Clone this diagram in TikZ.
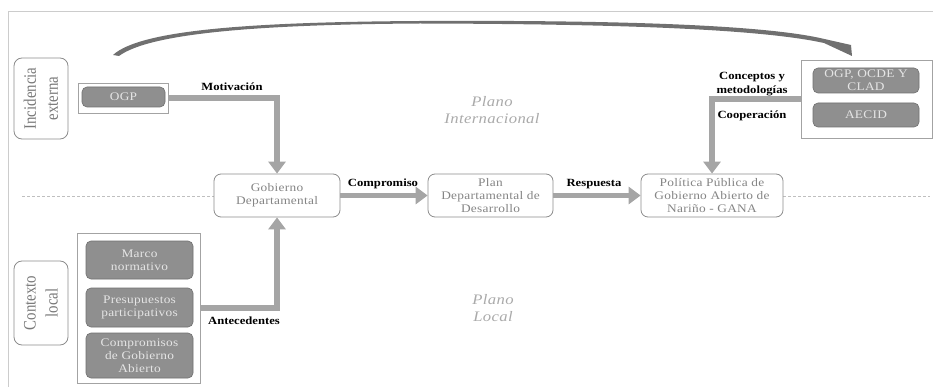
\documentclass[tikz,border=0pt]{standalone}
\usepackage{fontspec}
\setmainfont{Liberation Serif}[FakeStretch=1.15]
\newfontfamily\grisfont{Liberation Serif}[FakeStretch=1.15,LetterSpace=2.5]
\newfontfamily\ladofont{Liberation Serif}[FakeStretch=0.85]
\usetikzlibrary{arrows.meta}
\definecolor{borde}{HTML}{8C8C8C}
\definecolor{textogris}{HTML}{858585}
\definecolor{oscuro}{HTML}{8F8F8F}
\definecolor{flechagris}{HTML}{A5A5A5}
\definecolor{arcogris}{HTML}{707070}
\tikzset{
  caja/.style={draw=borde,line width=0.8pt,rounded corners=7pt,fill=white,inner sep=0pt,
    align=center,text=textogris,font=\grisfont\fontsize{11.6}{13}\selectfont},
  cajaosc/.style={draw=arcogris,line width=0.6pt,rounded corners=5pt,fill=oscuro,inner sep=0pt,
    align=center,text=white!90!black,font=\grisfont\fontsize{11.6}{13}\selectfont},
  grupo/.style={draw=borde!80,line width=0.8pt,fill=white,inner sep=0pt},
  lado/.style={draw=borde,line width=0.8pt,rounded corners=8pt,inner sep=0pt,rotate=90,
    align=center,text=textogris!90!black,font=\ladofont\fontsize{17.5}{22}\selectfont},
  flecha/.style={draw=flechagris,line width=5.5pt,-{Triangle[width=17pt,length=12pt]}},
  etiqueta/.style={align=center,font=\bfseries\fontsize{11}{14}\selectfont},
  plano/.style={align=center,text=textogris!70,font=\grisfont\itshape\fontsize{14.5}{17}\selectfont}
}
\begin{document}
\begin{tikzpicture}[x=1pt,y=-1pt]
  \useasboundingbox (0,0) rectangle (933,387);
  % marco
  \draw[black!20,line width=0.8pt] (933,11) -- (8,11) -- (8,387);

  % cajas de lado
  \node[lado,minimum width=81pt,minimum height=54pt] (inc) at (41,98.5) {Incidencia\\externa};
  \node[lado,minimum width=84pt,minimum height=54pt] (ctx) at (41,303) {Contexto\\local};

  % incidencia externa
  \node[grupo,minimum width=90pt,minimum height=30pt] (ogpg) at (123,98) {};
  \node[cajaosc,minimum width=83pt,minimum height=20pt] (ogp) at (123.5,97) {OGP};
  \node[grupo,minimum width=131pt,minimum height=78pt] (extg) at (866.5,99) {};
  \node[cajaosc,minimum width=106pt,minimum height=25pt] (ocde) at (866,80.5) {OGP, OCDE Y\\CLAD};
  \node[cajaosc,minimum width=106pt,minimum height=24pt] (aecid) at (866,115) {AECID};

  % contexto local
  \node[grupo,minimum width=123pt,minimum height=150pt] (locg) at (138.5,308) {};
  \node[cajaosc,minimum width=107pt,minimum height=38pt] (marco) at (139.5,260) {Marco\\normativo};
  \node[cajaosc,minimum width=107pt,minimum height=39pt] (presu) at (139.5,307.5) {Presupuestos\\participativos};
  \node[cajaosc,minimum width=107pt,minimum height=45pt] (compr) at (139.5,355.5) {Compromisos\\de Gobierno\\Abierto};

  % linea central
  \draw[black!25,dashed,dash pattern=on 3pt off 2pt,line width=0.5pt] (22,196) -- (214,196);
  \draw[black!25,dashed,dash pattern=on 3pt off 2pt,line width=0.5pt] (783,196) -- (930,196);

  % cadena principal
  \node[caja,minimum width=126pt,minimum height=43pt] (gob) at (277,195.5) {Gobierno\\Departamental};
  \node[caja,minimum width=125pt,minimum height=43pt] (plan) at (490.5,195.5) {Plan\\Departamental de\\Desarrollo};
  \node[caja,minimum width=142pt,minimum height=43pt] (pol) at (712,195.5) {Política Pública de\\Gobierno Abierto de\\Nariño - GANA};

  % flechas
  \draw[flecha] (ogpg.east) -| (gob.north);
  \draw[flecha] (locg.east) -| (gob.south);
  \draw[flecha] (gob.east) -- (plan.west);
  \draw[flecha] (plan.east) -- (pol.west);
  \draw[flecha] (extg.west) -| (pol.north);

  \node[etiqueta] (motiv) at (232,87) {Motivación};
  \node[etiqueta] (compm) at (383,184) {Compromiso};
  \node[etiqueta] (resp) at (594,184) {Respuesta};
  \node[etiqueta] (conc) at (752,84) {Conceptos y\\metodologías};
  \node[etiqueta] (coop) at (752,116) {Cooperación};
  \node[etiqueta] (antec) at (244,321) {Antecedentes};

  \node[plano] (pint) at (492,110) {Plano\\Internacional};
  \node[plano] (ploc) at (493,308) {Plano\\Local};

  % arco superior
  \fill[arcogris] (113,55) .. controls (140,30) and (250,22) .. (420,21)
    .. controls (620,20) and (760,25) .. (820,38) -- (851,45) -- (852,56) -- (824,43)
    .. controls (760,29) and (620,24) .. (420,23.5) .. controls (260,24.5) and (150,33) .. (119,56) -- cycle;
\end{tikzpicture}
\end{document}
